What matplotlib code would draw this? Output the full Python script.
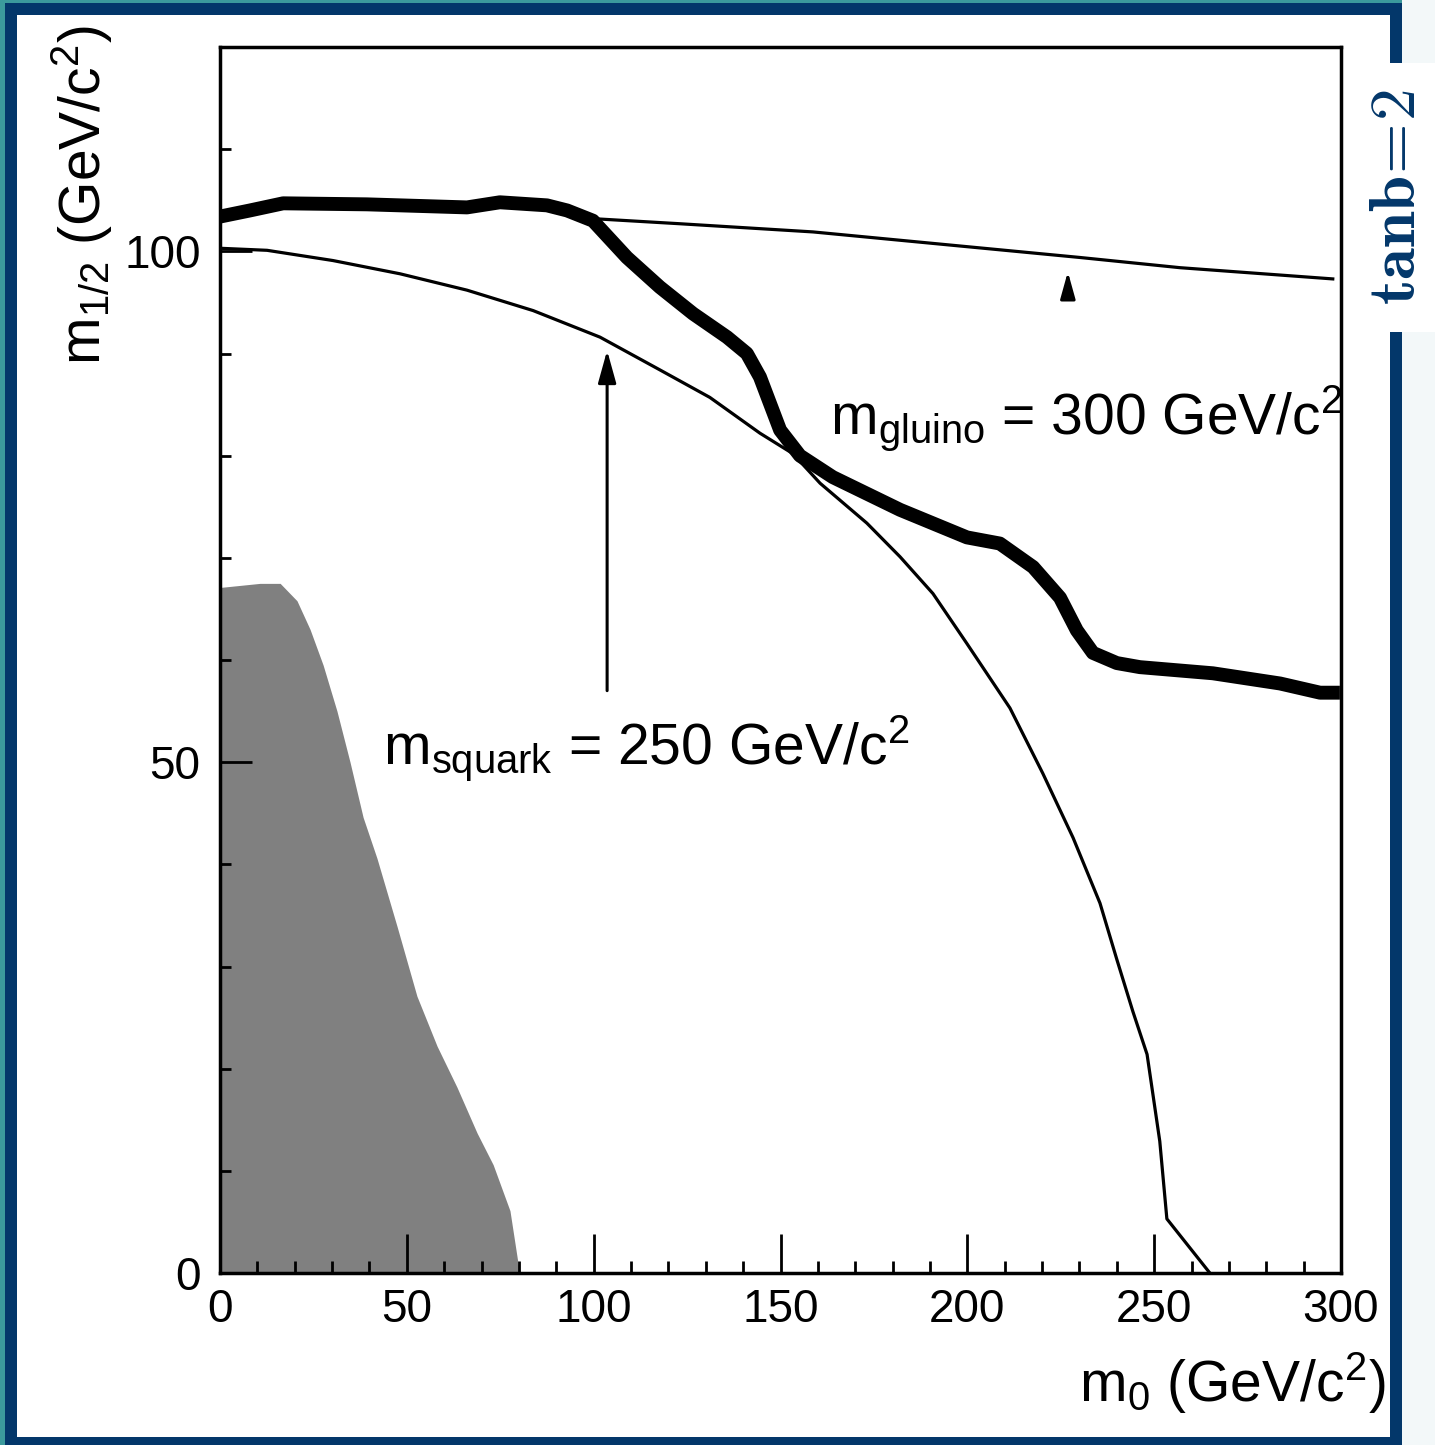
import matplotlib
matplotlib.use("Agg")
import matplotlib.pyplot as plt
from matplotlib.patches import Rectangle

plt.rcParams['font.family'] = ['Liberation Sans', 'DejaVu Sans']
plt.rcParams['mathtext.fontset'] = 'custom'
plt.rcParams['mathtext.rm'] = 'Liberation Sans'
plt.rcParams['mathtext.it'] = 'Liberation Sans'

# ---------------- data ----------------
# thick exclusion contour
limit_m0 = [0, 8, 16.9, 39.3, 66.1, 74.9, 87.5, 92.9, 99.8, 108.9, 117.7, 126.6,
            135.7, 141, 144.5, 147.2, 149.9, 155.2, 164, 182, 199.9, 208.7, 217.6,
            224.8, 229.3, 233.6, 240, 246.2, 265.7, 283.7, 294.4, 299.7]
limit_m12 = [103.4, 104.0, 104.7, 104.6, 104.3, 104.8, 104.5, 104.0, 103.0, 99.4, 96.5, 93.9,
             91.6, 90.0, 87.7, 85.1, 82.5, 80.0, 77.9, 74.7, 72.0, 71.4, 69.1,
             66.1, 62.9, 60.7, 59.7, 59.3, 58.7, 57.7, 56.8, 56.8]

# gluino mass = 300 GeV/c^2 isoline
gluino_m0 = [97, 99.8, 123.1, 158.7, 230.1, 256.9, 297.8]
gluino_m12 = [103.3, 103.2, 102.7, 101.9, 99.4, 98.4, 97.3]

# squark mass = 250 GeV/c^2 isoline
squark_m0 = [0, 12.6, 30.2, 48.2, 66.1, 83.8, 101.7, 117.7, 131.1, 144.5, 153.3, 160.6,
             173.1, 182, 190.8, 199.9, 211.4, 220.2, 228.3, 235.5, 240, 244.3, 248.1,
             251.5, 253.4, 264.9]
squark_m12 = [100.3, 100.1, 99.1, 97.8, 96.2, 94.2, 91.6, 88.4, 85.7, 82.2, 80.2, 77.3,
              73.4, 70.1, 66.5, 61.6, 55.3, 48.9, 42.6, 36.2, 30.7, 25.6, 21.4,
              12.9, 5.3, 0.0]

# grey (theoretically excluded) region
grey_m0 = [0, 10.7, 16.1, 20.6, 24.1, 27.6, 31.3, 34.8, 38.3, 42.0, 47.4, 52.7,
           58.1, 63.4, 68.8, 73.1, 77.6, 79.7, 80.3]
grey_m12 = [67.1, 67.5, 67.5, 65.8, 63.0, 59.5, 55.0, 50.0, 44.6, 40.6, 33.9, 27.1,
            22.2, 18.2, 13.7, 10.6, 6.1, 1.1, 0.0]

# arrows (x, y_from, y_to)
arrow_squark = (103.6, 57.0, 90.3)
arrow_gluino = (226.9, 95.5, 98.0)

x_ticks = [0, 50, 100, 150, 200, 250, 300]
y_ticks = [0, 50, 100]

W, H = 1435, 1445
fig = plt.figure(figsize=(W / 100, H / 100), dpi=100)
fig.patch.set_facecolor('#f3f8f9')

def px_rect(x0, y0, x1, y1, color, z):
    fig.add_artist(Rectangle((x0 / W, 1 - y1 / H), (x1 - x0) / W, (y1 - y0) / H,
                             transform=fig.transFigure, facecolor=color,
                             edgecolor='none', zorder=z))

navy = '#03376a'
px_rect(0, 0, 1402, 4, '#3b9a9c', -20)
px_rect(0, 0, 5, H, '#3b9a9c', -20)
px_rect(5, 3, 1402, H, navy, -15)
px_rect(17, 15, 1390, 1437, 'white', -12)
px_rect(1388, 63, W, 332, 'white', -10)

fig.text(1398 / W, 1 - 197 / H, r'$\mathbf{tanb\!=\!2}$', rotation=90, ha='center',
         va='center', fontsize=47, color=navy, math_fontfamily='cm')

ax = fig.add_axes([220 / W, 1 - 1273 / H, (1341 - 220) / W, (1273 - 47) / H])
ax.set_xlim(0, 300)
ax.set_ylim(0, 120)

ax.fill_between(grey_m0, 0, grey_m12, color='#808080', lw=0, zorder=1)
ax.plot(squark_m0, squark_m12, color='black', lw=2.3, zorder=3)
ax.plot(gluino_m0, gluino_m12, color='black', lw=2.3, zorder=3)
ax.plot(limit_m0, limit_m12, color='black', lw=10, solid_joinstyle='round',
        solid_capstyle='butt', zorder=4)

for (ax_x, y0, y1), ms in ((arrow_squark, 22), (arrow_gluino, 18)):
    ax.annotate('', xy=(ax_x, y1), xytext=(ax_x, y0),
                arrowprops=dict(arrowstyle='-|>,head_length=0.9,head_width=0.25',
                                lw=2.2, color='black', mutation_scale=ms,
                                shrinkA=0, shrinkB=0), zorder=5)

ax.text(163.2, 82.0, r'm$_{\rm gluino}$ = 300 GeV/c$^{2}$', fontsize=41,
        ha='left', va='baseline', zorder=6)
ax.text(43.6, 49.7, r'm$_{\rm squark}$ = 250 GeV/c$^{2}$', fontsize=41,
        ha='left', va='baseline', zorder=6)

ax.set_xticks(x_ticks)
ax.set_yticks(y_ticks)
ax.set_xticks(range(0, 301, 10), minor=True)
ax.set_yticks(range(0, 121, 10), minor=True)
ax.tick_params(axis='both', which='both', direction='in', width=2, color='black',
               labelsize=33)
ax.tick_params(axis='x', which='major', length=28, pad=11)
ax.tick_params(axis='x', which='minor', length=9)
ax.tick_params(axis='y', which='major', length=23, pad=14)
ax.tick_params(axis='y', which='minor', length=8)
for s in ax.spines.values():
    s.set_linewidth(2.5)

fig.text(1385 / W, 1 - 1402 / H, r'm$_{0}$ (GeV/c$^{2}$)', fontsize=41,
         ha='right', va='baseline')
fig.text(82 / W, 1 - 25 / H, r'm$_{1/2}$ (GeV/c$^{2}$)', fontsize=41,
         ha='center', va='top', rotation=90)

fig.savefig('out.png', dpi=100, facecolor=fig.get_facecolor())
